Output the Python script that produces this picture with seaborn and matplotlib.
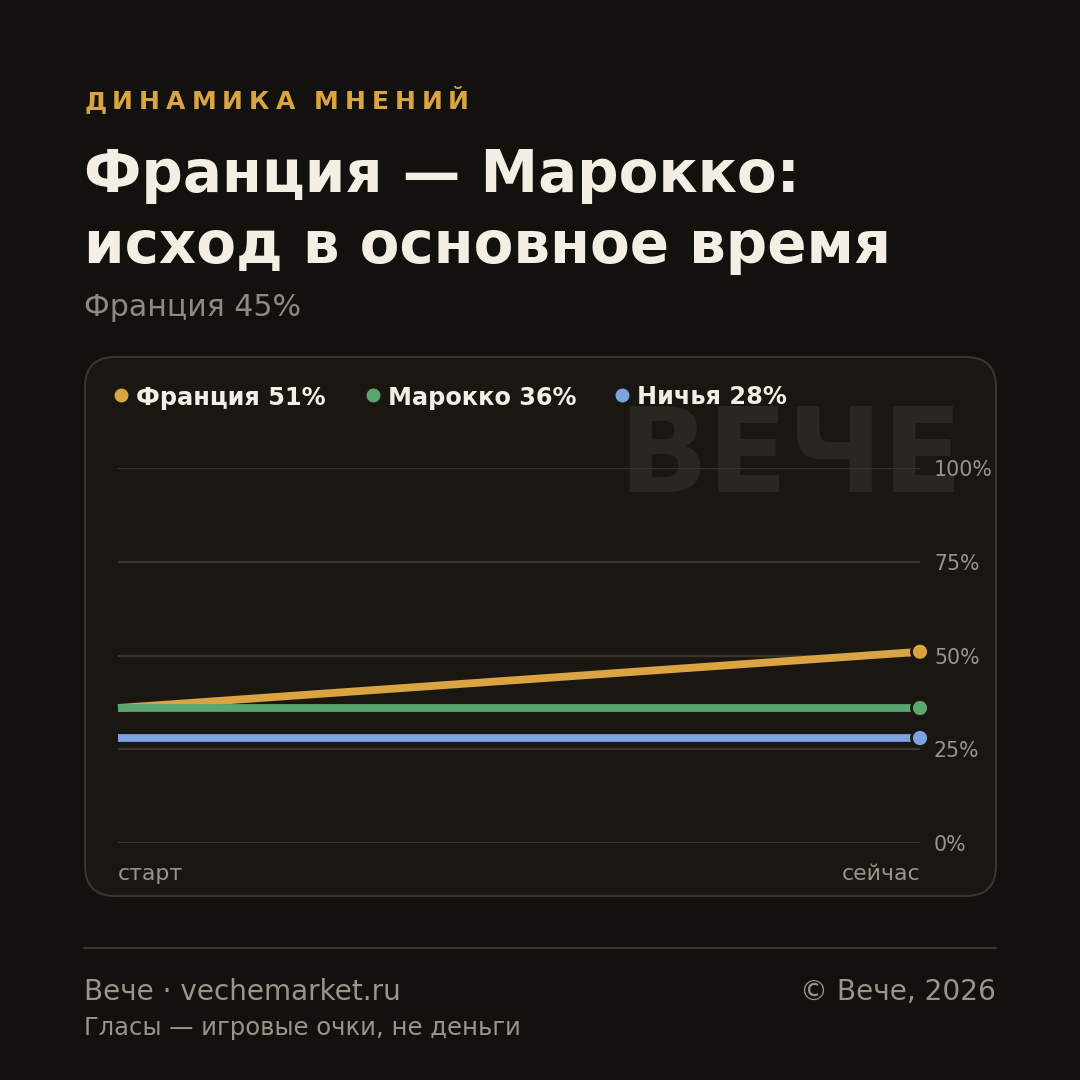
import matplotlib
matplotlib.use("Agg")
import matplotlib.pyplot as plt
import seaborn as sns
import pandas as pd
from matplotlib.patches import FancyBboxPatch
from matplotlib.lines import Line2D

# ---- data ----
series_names = ["Франция", "Марокко", "Ничья"]
start_values = [36, 36, 28]
now_values = [51, 36, 28]
time_labels = ["старт", "сейчас"]
y_ticks = [0, 25, 50, 75, 100]
colors = ["#d9a441", "#5aa66f", "#7fa3e0"]

kicker = "ДИНАМИКА МНЕНИЙ"
title_lines = ["Франция — Марокко:", "исход в основное время"]
subtitle = "Франция 45%"

BG = "#12110e"
CARD = "#1a1713"
CARD_EDGE = "#3a352d"
GRID = "#3a352e"
MUTED = "#9a958a"
TITLE = "#f3efe4"

sns.set_theme(style="white")
plt.rcParams["font.family"] = ["DejaVu Sans"]

W = 1080
fig = plt.figure(figsize=(10.8, 10.8), dpi=100, facecolor=BG)

def fx(px):
    return px / W

def fy(py):
    return 1 - py / W

# card
card = FancyBboxPatch((fx(85), fy(896)), fx(996) - fx(85), fy(357) - fy(896),
                      boxstyle="round,pad=0,rounding_size=0.028",
                      transform=fig.transFigure, facecolor=CARD,
                      edgecolor=CARD_EDGE, linewidth=1.5, zorder=0)
fig.add_artist(card)

# watermark
fig.text(fx(963), fy(460), "ВЕЧЕ", ha="right", va="center", fontsize=84.5,
         fontweight="bold", color="#2a2722", zorder=0.5)

# kicker with letter spacing
renderer = fig.canvas.get_renderer()
x = 84
for ch in kicker:
    t = fig.text(fx(x), fy(109), ch, fontsize=18, fontweight="bold",
                 color=colors[0], ha="left", va="baseline")
    w = t.get_window_extent(renderer=renderer).width
    if ch == " ":
        w = 7
    x += w + 6.0

fig.text(fx(84), fy(192), title_lines[0], fontsize=41.7, fontweight="bold",
         color=TITLE, ha="left", va="baseline")
fig.text(fx(84), fy(263), title_lines[1], fontsize=41.7, fontweight="bold",
         color=TITLE, ha="left", va="baseline")
fig.text(fx(84), fy(316), subtitle, fontsize=21.6, color="#8f8a80",
         ha="left", va="baseline")

# axes
ax = fig.add_axes([fx(118), fy(843), fx(920) - fx(118), fy(468) - fy(843)])
ax.set_facecolor("none")
ax.set_zorder(1)

rows = []
for name, s, n in zip(series_names, start_values, now_values):
    rows.append({"t": 0, "v": s, "series": name})
    rows.append({"t": 1, "v": n, "series": name})
df = pd.DataFrame(rows)
palette = dict(zip(series_names, colors))

sns.lineplot(data=df, x="t", y="v", hue="series", palette=palette,
             linewidth=5.6, legend=False, ax=ax, solid_capstyle="butt")
for line in ax.lines:
    line.set_clip_on(False)
last = df[df["t"] == 1]
sns.scatterplot(data=last, x="t", y="v", hue="series", palette=palette,
                s=150, edgecolor=CARD, linewidth=2, legend=False, ax=ax,
                clip_on=False, zorder=5)

ax.set_xlim(0, 1)
ax.set_ylim(0, 100)
for sp in ax.spines.values():
    sp.set_visible(False)
ax.yaxis.tick_right()
ax.set_yticks(y_ticks)
ax.set_yticklabels([f"{v}%" for v in y_ticks])
ax.tick_params(axis="y", length=0, pad=10, labelsize=14.8, labelcolor=MUTED)
ax.grid(axis="y", color=GRID, linewidth=1.6)
ax.grid(axis="x", visible=False)
ax.set_axisbelow(True)
ax.set_xticks([0, 1])
ax.set_xticklabels(time_labels)
ax.tick_params(axis="x", length=0, pad=15, labelsize=15.8, labelcolor=MUTED)
xl = ax.get_xticklabels()
xl[0].set_ha("left")
xl[1].set_ha("right")
ax.set_xlabel("")
ax.set_ylabel("")

# legend
leg_x = [121, 373, 622]
for lx, name, c, v in zip(leg_x, series_names, colors, now_values):
    fig.add_artist(Line2D([fx(lx)], [fy(395)], marker="o", markersize=10,
                          color=c, markeredgewidth=0, transform=fig.transFigure))
    fig.text(fx(lx + 15), fy(395), f"{name} {v}%", fontsize=17.3,
             fontweight="bold", color=TITLE, ha="left", va="center_baseline")

# footer
fig.add_artist(Line2D([fx(84), fx(996)], [fy(948), fy(948)], color=GRID,
                      linewidth=1.5, transform=fig.transFigure))
fig.text(fx(84), fy(1000), "Вече · vechemarket.ru", fontsize=20.1,
         color=MUTED, ha="left", va="baseline")
fig.text(fx(996), fy(1000), "© Вече, 2026", fontsize=20.2,
         color=MUTED, ha="right", va="baseline")
fig.text(fx(84), fy(1035), "Гласы — игровые очки, не деньги", fontsize=17.5,
         color=MUTED, ha="left", va="baseline")

fig.savefig("out.png", dpi=100, facecolor=BG)
